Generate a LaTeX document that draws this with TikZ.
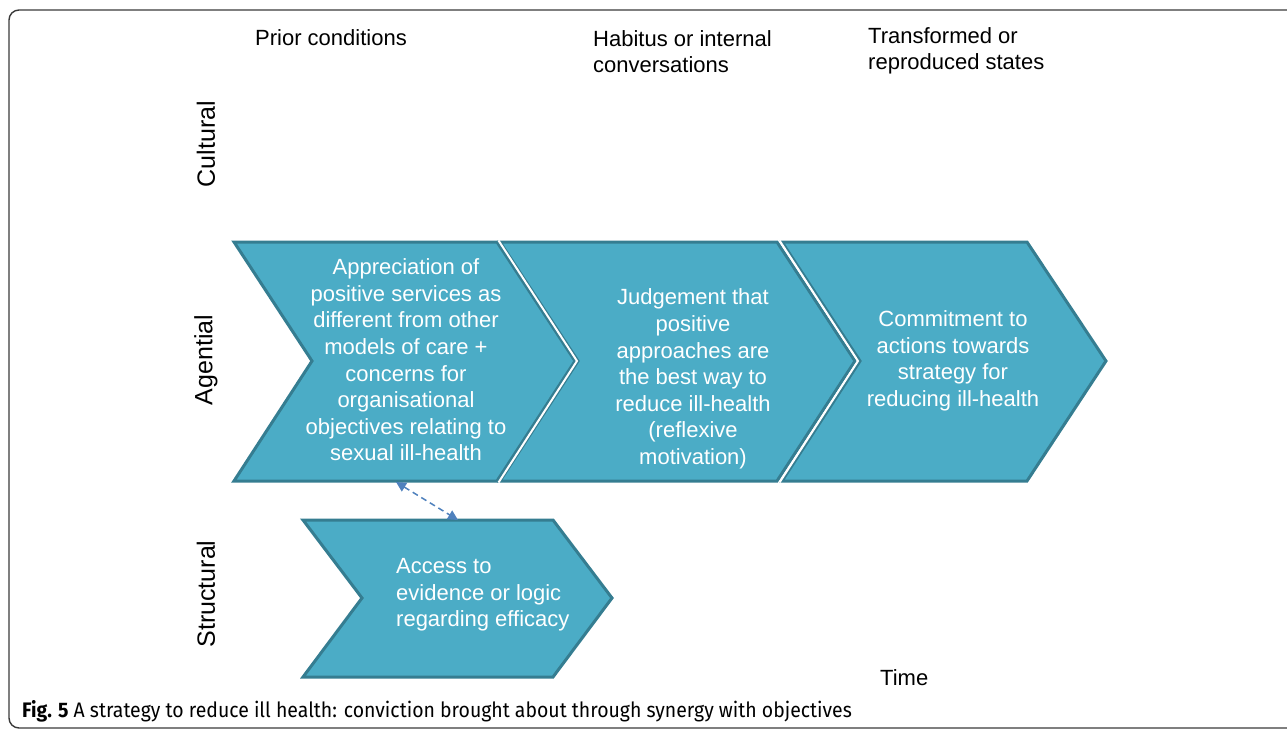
\documentclass[tikz,border=0pt]{standalone}
\usepackage{fontspec}
\setmainfont{Liberation Sans}
\newfontfamily\capfont{Fira Sans}
\usetikzlibrary{arrows.meta}
\definecolor{chevfill}{HTML}{4BACC6}
\definecolor{chevline}{HTML}{357D91}
\definecolor{arrblue}{HTML}{4F81BD}
\definecolor{framegray}{HTML}{3A3A3A}
\tikzset{
  chev/.style={fill=chevfill, draw=chevline, line width=3pt, line join=miter},
  gap/.style={draw=white, line width=2pt},
  head/.style={font=\fontsize{22}{26.5}\selectfont, text=black, inner sep=0pt},
  rowlab/.style={font=\fontsize{25}{30}\selectfont, text=black, inner sep=0pt, rotate=90},
  chevtext/.style={font=\fontsize{22}{26.6}\selectfont, text=white, inner sep=0pt, align=center},
  dasharr/.style={draw=arrblue, line width=1.5pt, dash pattern=on 6pt off 4pt,
    {Triangle[length=10pt,width=10pt]}-{Triangle[length=10pt,width=10pt]}}
}
\begin{document}
\begin{tikzpicture}[x=1pt,y=-1pt]
\useasboundingbox (0,0) rectangle (1287,730);
% frame (open to the right)
\begin{scope}
\clip (0,0) rectangle (1287,730);
\draw[framegray, line width=1.4pt, rounded corners=10pt] (1300,10) -- (9,10) -- (9,728) -- (1300,728);
\end{scope}
% headers
\node[head, anchor=base west] (h1) at (255,46) {Prior conditions};
\node[head, anchor=base west, align=left] (h2) at (593,73) {Habitus or internal\\conversations};
\node[head, anchor=base west, align=left] (h3) at (868,70) {Transformed or\\reproduced states};
% row labels
\node[rowlab] (rc) at (206,144) {Cultural};
\node[rowlab] (ra) at (206,360) {Agential};
\node[rowlab] (rs) at (206,594) {Structural};
% agential chevrons
\path[chev] (234,242) -- (497,242) -- (575,361) -- (497,481) -- (234,481) -- (312,361) -- cycle;
\path[chev] (500,242) -- (777,242) -- (855,361) -- (777,481) -- (500,481) -- (578,361) -- cycle;
\path[chev] (782,242) -- (1027,242) -- (1106,361) -- (1027,481) -- (782,481) -- (860,361) -- cycle;
\draw[gap] (498.5,240.5) -- (577,361) -- (498.5,482.5);
\draw[gap] (779.5,240.5) -- (858,361) -- (779.5,482.5);
% structural chevron
\path[chev] (303,520) -- (553,520) -- (612,598) -- (553,677) -- (303,677) -- (362,598) -- cycle;
% chevron texts
\node[chevtext] (c1) at (406,360) {Appreciation of\\positive services as\\different from other\\models of care +\\concerns for\\organisational\\objectives relating to\\sexual ill-health};
\node[chevtext] (c2) at (693,379) {Judgement that\\positive\\approaches are\\the best way to\\reduce ill-health\\(reflexive\\motivation)};
\node[chevtext] (c3) at (953,361) {Commitment to\\actions towards\\strategy for\\reducing ill-health};
\node[chevtext, align=left, anchor=west] (c4) at (396,595) {Access to\\evidence or logic\\regarding efficacy};
% dashed link
\coordinate (a1) at (396,482);
\coordinate (a2) at (458,520);
\draw[dasharr] (a1) -- (a2);
% time
\node[head, anchor=base west] (time) at (880,685) {Time};
% caption
\node[anchor=base west, inner sep=0pt] (cap) at (22,717) {\scalebox{0.926}[1]{\capfont\fontsize{21}{24}\selectfont\textbf{Fig. 5} A strategy to reduce ill health: conviction brought about through synergy with objectives}};
\end{tikzpicture}
\end{document}
